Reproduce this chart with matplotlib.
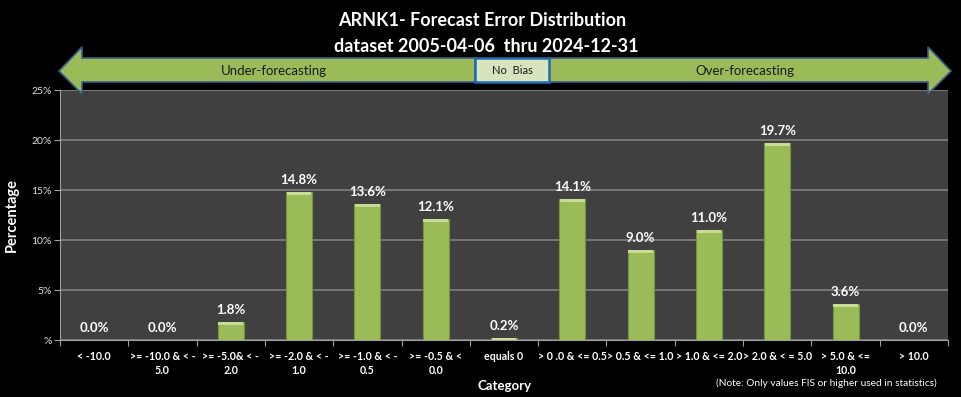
import numpy as np
import matplotlib.pyplot as plt
from matplotlib.patches import Polygon, Rectangle
from matplotlib.ticker import FuncFormatter

plt.rcParams['font.family'] = ['Lato', 'DejaVu Sans']

categories = ['< -10.0', '>= -10.0 & < -\n5.0', '>= -5.0& < -\n2.0', '>= -2.0 & < -\n1.0',
              '>= -1.0 & < -\n0.5', '>= -0.5 & <\n0.0', 'equals 0', '> 0 .0 & <= 0.5',
              '> 0.5 & <= 1.0', '> 1.0 & <= 2.0', '> 2.0 & < = 5.0', '> 5.0 & <=\n10.0', '> 10.0']
values = [0.0, 0.0, 1.8, 14.8, 13.6, 12.1, 0.2, 14.1, 9.0, 11.0, 19.7, 3.6, 0.0]
bar_colors = ['#9bbb59'] * 6 + ['#c9d9ab'] + ['#9bbb59'] * 6
yticks = [0, 5, 10, 15, 20, 25]

W, H = 961, 397
fig = plt.figure(figsize=(W / 100, H / 100), dpi=100, facecolor='black')
ax = fig.add_axes([60 / W, 1 - 340 / H, 888 / W, 250 / H])
ax.set_facecolor('#404040')

x = np.arange(len(categories))
ax.bar(x, values, width=0.38, color=bar_colors, edgecolor='#76923c', linewidth=0.8, zorder=3)
# light bevel on top of each bar
caps = [min(v, 0.3) for v in values]
ax.bar(x, caps, width=0.36, bottom=np.array(values) - np.array(caps),
       color='#c8dc98', linewidth=0, zorder=4)

for xi, v in zip(x, values):
    ax.annotate(f'{v:.1f}%', (xi, v), xytext=(0, 4.5), textcoords='offset points',
                ha='center', va='bottom', color='white', fontsize=9.5, fontweight='bold')

ax.set_xlim(-0.5, len(categories) - 0.5)
ax.set_ylim(0, 25)
ax.set_yticks(yticks)
ax.yaxis.set_major_formatter(FuncFormatter(lambda v, p: '%' if v == 0 else f'{v:.0f}%'))
ax.set_xticks(np.arange(len(categories) + 1) - 0.5, minor=False)
ax.set_xticklabels([])
ax.set_xticks(x, minor=True)
ax.set_xticklabels(categories, minor=True, fontsize=7.7, fontweight='bold', color='white',
                   linespacing=1.35)
ax.tick_params(axis='x', which='minor', length=0, pad=8)
ax.tick_params(axis='x', which='major', length=4, color='#a0a0a0', direction='out')
ax.tick_params(axis='y', length=4, color='#a0a0a0', labelsize=7.5, labelcolor='#e0e0e0', pad=2)
ax.grid(axis='y', color='#808080', linewidth=1.2, zorder=1)
for side in ['top', 'right']:
    ax.spines[side].set_visible(False)
for side in ['left', 'bottom']:
    ax.spines[side].set_color('#a0a0a0')

ax.set_ylabel('Percentage', color='white', fontsize=10.5, fontweight='bold', labelpad=9)
fig.text(505 / W, 1 - 386 / H, 'Category', color='white', fontsize=9.5, fontweight='bold',
         ha='center', va='center')
fig.text(937 / W, 1 - 383 / H, '(Note: Only values FIS or higher used in statistics)',
         color='white', fontsize=7.3, ha='right', va='center')

fig.text(482 / W, 1 - 20 / H, 'ARNK1- Forecast Error Distribution', color='white',
         fontsize=13, fontweight='bold', ha='center', va='center')
fig.text(486 / W, 1 - 46 / H, 'dataset 2005-04-06  thru 2024-12-31', color='white',
         fontsize=13, fontweight='bold', ha='center', va='center')


def px(pts):
    return [(a / W, 1 - b / H) for a, b in pts]


left_arrow = px([(59, 71), (82, 47), (82, 58), (475, 58), (475, 82), (82, 82), (82, 94)])
right_arrow = px([(951, 71), (928, 47), (928, 58), (549, 58), (549, 82), (928, 82), (928, 94)])
for pts in [left_arrow, right_arrow]:
    fig.patches.append(Polygon(pts, closed=True, transform=fig.transFigure,
                               facecolor='#9bbb59', edgecolor='#385d8a', linewidth=1.2,
                               zorder=5))
fig.patches.append(Rectangle((475 / W, 1 - 82 / H), 74 / W, 24 / H, transform=fig.transFigure,
                             facecolor='#d7e4bd', edgecolor='#1f6bb0', linewidth=1.8, zorder=6))
fig.text(274 / W, 1 - 71 / H, 'Under-forecasting', fontsize=9.5, color='#1a1a1a',
         ha='center', va='center', zorder=7)
fig.text(512 / W, 1 - 70 / H, 'No  Bias', fontsize=8, color='#1a1a1a',
         ha='center', va='center', zorder=7)
fig.text(745 / W, 1 - 71 / H, 'Over-forecasting', fontsize=9.5, color='#1a1a1a',
         ha='center', va='center', zorder=7)

fig.savefig('out.png', dpi=100, facecolor='black')
